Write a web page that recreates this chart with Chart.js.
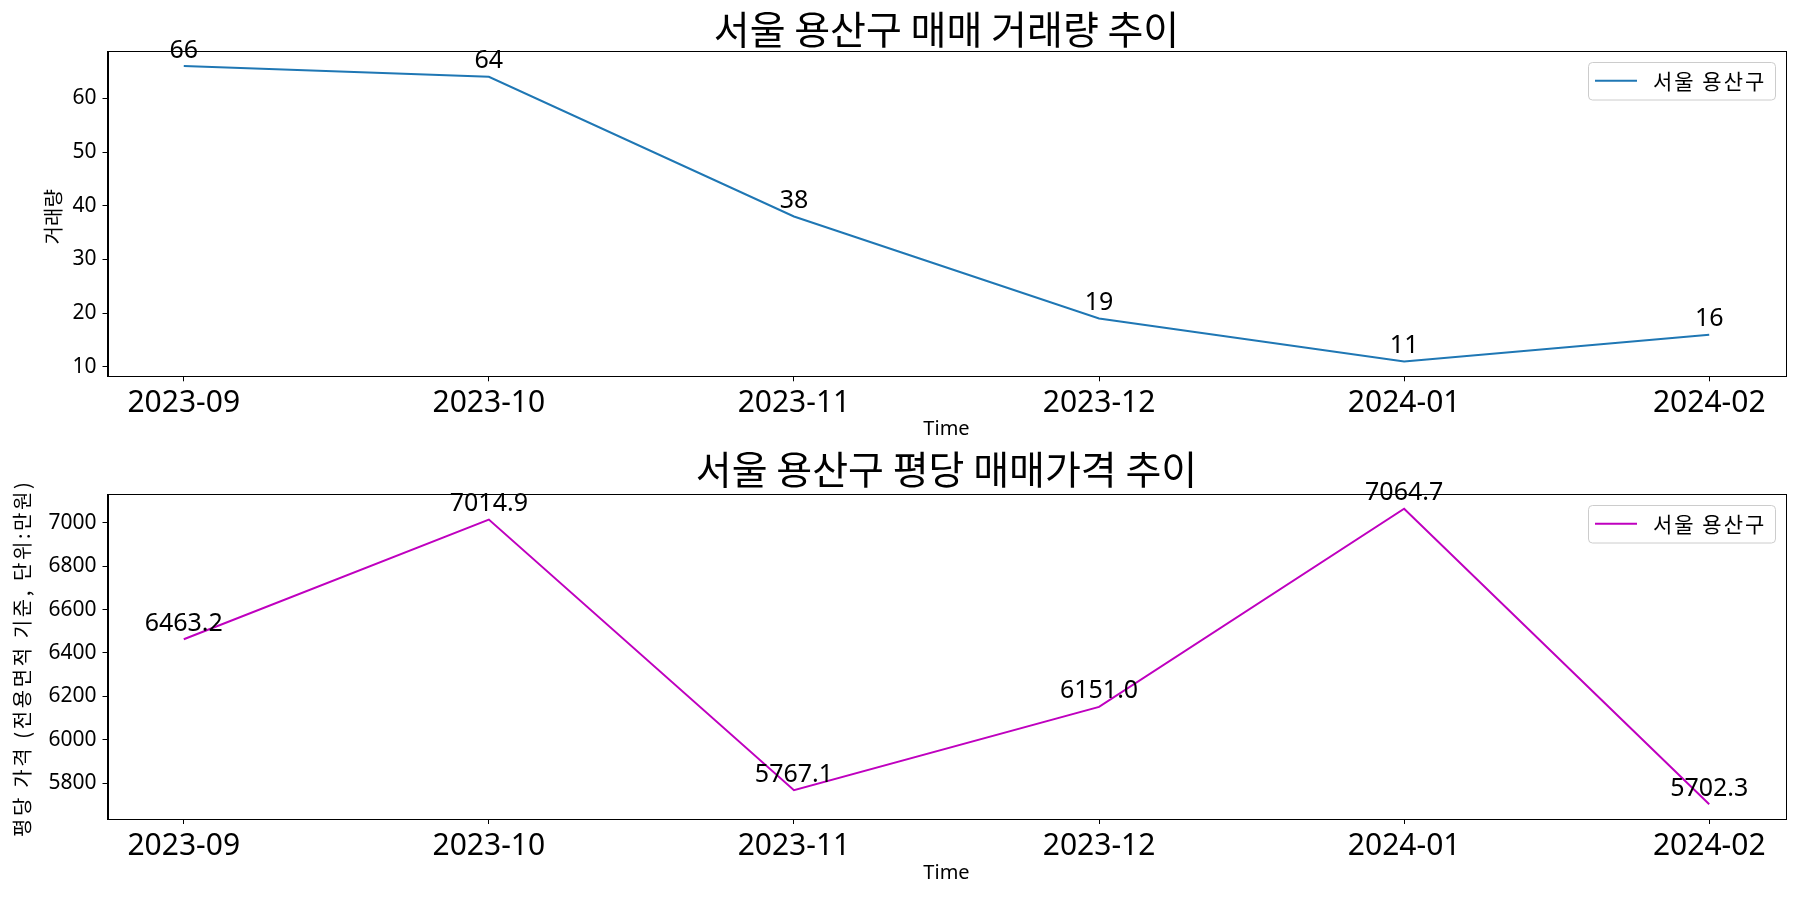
<!DOCTYPE html>
<html>
<head>
<meta charset="utf-8">
<script src="https://cdn.jsdelivr.net/npm/chart.js@4.4.1/dist/chart.umd.min.js"></script>
<style>
  html, body { margin: 0; padding: 0; background: #fff; }
  .panel { position: absolute; left: 0; width: 1800px; height: 450px; }
</style>
</head>
<body>
<div class="panel" style="top:0"><canvas id="volume-chart" width="1800" height="450"></canvas></div>
<div class="panel" style="top:450px"><canvas id="price-chart" width="1800" height="450"></canvas></div>
<script>
// --- data ---
const months = ['2023-09', '2023-10', '2023-11', '2023-12', '2024-01', '2024-02'];
const volume = [66, 64, 38, 19, 11, 16];
const price = [6463.2, 7014.9, 5767.1, 6151.0, 7064.7, 5702.3];
const volumeTicks = [10, 20, 30, 40, 50, 60];
const priceTicks = [5800, 6000, 6200, 6400, 6600, 6800, 7000];

const FONT = '"Noto Sans", "Noto Sans CJK KR", sans-serif';
const KFONT = '"Noto Sans CJK KR", "Noto Sans", sans-serif';

// matplotlib-like 5% margins around the data
function padRange(arr) {
    const lo = Math.min(...arr), hi = Math.max(...arr);
    const pad = (hi - lo) * 0.05;
    return { min: lo - pad, max: hi + pad };
}

// per-chart text settings (kept out of chart options so nothing gets treated as scriptable)
const decorSettings = {
    'volume-chart': {
        title: '서울 용산구 매매 거래량 추이',
        titleY: 29,
        xLabelY: 429,
        yLabel: '거래량',
        yLabelX: 53,
        yLabelSpacing: 0,
        digits: 0
    },
    'price-chart': {
        title: '서울 용산구 평당 매매가격 추이',
        titleY: 19,
        xLabelY: 423,
        yLabel: '평당 가격 (전용면적 기준, 단위:만원)',
        yLabelX: 22.5,
        yLabelSpacing: 2.6,
        digits: 1
    }
};

// draws titles, axis labels, legend, value labels and the box frame
const decorPlugin = {
    id: 'decor',
    afterDraw(chart) {
        const o = decorSettings[chart.canvas.id];
        const ctx = chart.ctx;
        const a = chart.chartArea;
        const cx = (a.left + a.right) / 2;
        ctx.save();

        // frame (top + right)
        ctx.strokeStyle = '#000';
        ctx.lineWidth = 1;
        ctx.strokeRect(Math.round(a.left) + 0.5, Math.round(a.top) + 0.5,
            Math.round(a.right - a.left), Math.round(a.bottom - a.top));

        ctx.fillStyle = '#000';
        ctx.textAlign = 'center';
        ctx.textBaseline = 'middle';

        // title
        ctx.font = '39px ' + KFONT;
        ctx.fillText(o.title, cx, o.titleY);

        // x label
        ctx.font = '20px ' + FONT;
        ctx.fillText('Time', cx, o.xLabelY);

        // y label
        ctx.save();
        ctx.translate(o.yLabelX, (a.top + a.bottom) / 2 + 3);
        ctx.rotate(-Math.PI / 2);
        ctx.font = '20px ' + KFONT;
        ctx.letterSpacing = o.yLabelSpacing + 'px';
        ctx.fillText(o.yLabel, o.yLabelSpacing / 2, 0);
        ctx.restore();

        // value labels
        const meta = chart.getDatasetMeta(0);
        const ds = chart.data.datasets[0];
        ctx.font = '25px ' + FONT;
        ctx.textBaseline = 'alphabetic';
        meta.data.forEach((pt, i) => {
            const v = ds.data[i].y;
            ctx.fillText(v.toFixed(o.digits), pt.x, pt.y - 8.5);
        });

        // legend
        const bw = 187, bh = 37.5;
        const bx = Math.round(a.right - 10.5 - bw), by = Math.round(a.top + 10.5);
        ctx.beginPath();
        ctx.roundRect(bx + 0.5, by + 0.5, bw, bh, 4);
        ctx.fillStyle = 'rgba(255,255,255,0.8)';
        ctx.fill();
        ctx.strokeStyle = '#cccccc';
        ctx.lineWidth = 1;
        ctx.stroke();
        ctx.beginPath();
        ctx.moveTo(bx + 7, by + bh / 2);
        ctx.lineTo(bx + 49, by + bh / 2);
        ctx.strokeStyle = ds.borderColor;
        ctx.lineWidth = 2;
        ctx.stroke();
        ctx.fillStyle = '#000';
        ctx.textAlign = 'left';
        ctx.textBaseline = 'middle';
        ctx.font = '21px ' + KFONT;
        ctx.letterSpacing = '2px';
        ctx.fillText(ds.label, bx + 65, by + bh / 2);
        ctx.letterSpacing = '0px';

        ctx.restore();
    }
};

function makeChart(id, values, yTicks, color, top, xHeight) {
    const yr = padRange(values);
    return new Chart(document.getElementById(id), {
        type: 'line',
        data: {
            datasets: [{
                label: '서울 용산구',
                data: values.map((v, i) => ({ x: i, y: v })),
                borderColor: color,
                borderWidth: 2,
                pointRadius: 0,
                tension: 0,
                fill: false
            }]
        },
        options: {
            responsive: false,
            animation: false,
            layout: { padding: { left: 0, right: 14.5, top: top, bottom: 0 } },
            scales: {
                x: {
                    type: 'linear',
                    min: -0.25,
                    max: months.length - 0.75,
                    afterBuildTicks: (s) => { s.ticks = months.map((m, i) => ({ value: i })); },
                    afterFit: (s) => { s.height = xHeight; },
                    grid: { display: true, drawOnChartArea: false, drawTicks: true, tickLength: 5, color: '#000' },
                    border: { display: true, color: '#000', width: 1 },
                    ticks: {
                        autoSkip: false,
                        maxRotation: 0,
                        padding: 4,
                        color: '#000',
                        font: { family: FONT, size: 30 },
                        callback: (v) => months[v]
                    }
                },
                y: {
                    min: yr.min,
                    max: yr.max,
                    afterBuildTicks: (s) => { s.ticks = yTicks.map(v => ({ value: v })); },
                    afterFit: (s) => { s.width = 107.5; },
                    grid: { display: true, drawOnChartArea: false, drawTicks: true, tickLength: 5, color: '#000' },
                    border: { display: true, color: '#000', width: 1 },
                    ticks: {
                        padding: 6,
                        color: '#000',
                        font: { family: FONT, size: 21 },
                        callback: (v) => String(v)
                    }
                }
            },
            plugins: {
                legend: { display: false },
                tooltip: { enabled: false }
            }
        },
        plugins: [decorPlugin]
    });
}

makeChart('volume-chart', volume, volumeTicks, '#1f77b4', 51.3, 73.7);
makeChart('price-chart', price, priceTicks, '#bf00bf', 44, 81);
</script>
</body>
</html>
